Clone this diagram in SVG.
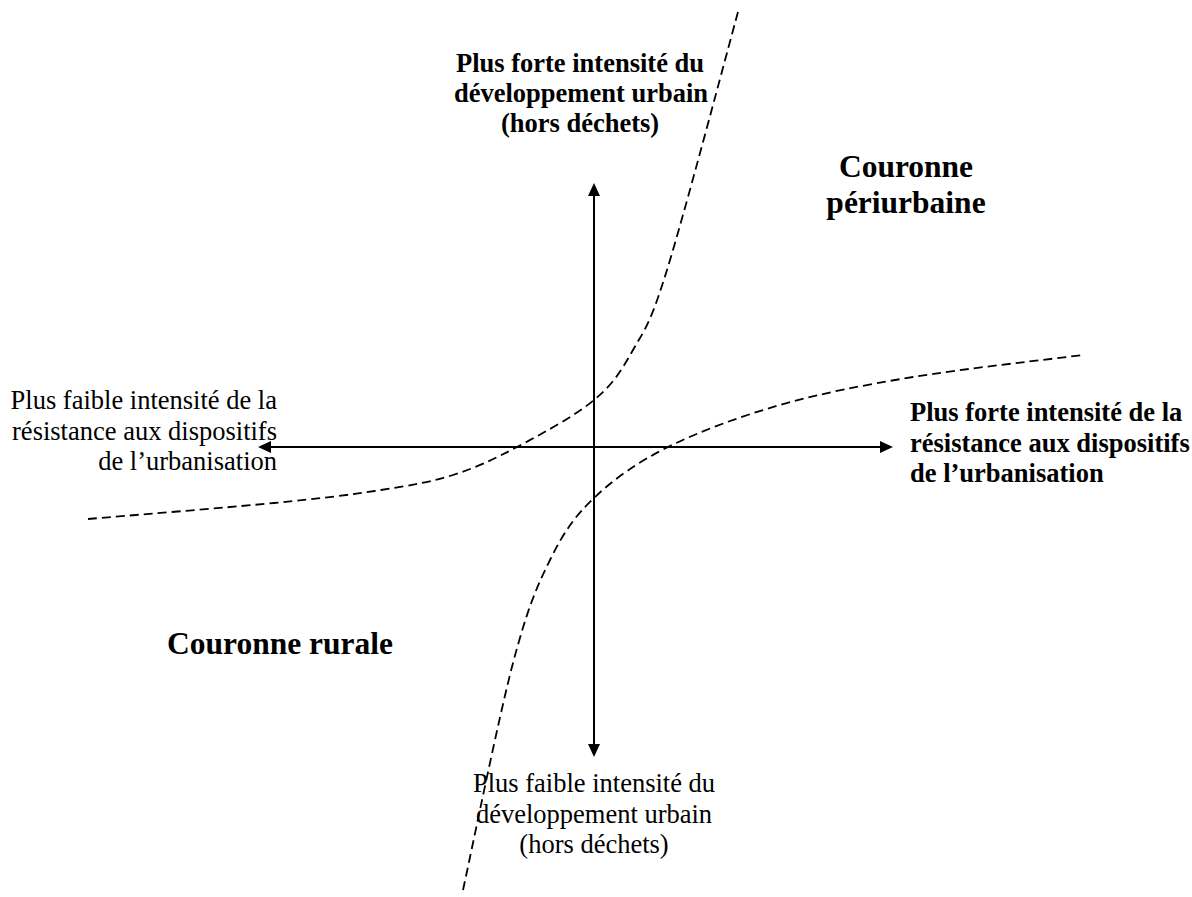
<svg xmlns="http://www.w3.org/2000/svg" width="1192" height="897" viewBox="0 0 1192 897">
  <style>
    .reg { font-family: "Liberation Serif", "Times New Roman", serif; font-size: 26.5px; fill: #000; }
    .bold { font-family: "Liberation Serif", "Times New Roman", serif; font-size: 26.5px; font-weight: bold; fill: #000; }
    .big { font-family: "Liberation Serif", "Times New Roman", serif; font-size: 31.5px; font-weight: bold; fill: #000; }
    .axis { stroke: #000; stroke-width: 2; fill: none; }
    .curve { stroke: #000; stroke-width: 1.8; fill: none; stroke-dasharray: 9 5; }
  </style>
  <defs>
    <marker id="arrow" markerUnits="userSpaceOnUse" markerWidth="13" markerHeight="12" viewBox="0 0 13 12" refX="0" refY="6" orient="auto-start-reverse">
      <path d="M0,0 L13,6 L0,12 z" fill="#000"/>
    </marker>
  </defs>
  <rect width="1192" height="897" fill="#fff"/>

  <g id="curves">
    <path id="curve-upper" class="curve" d="M88,519 C119,516.3 225.2,507.8 274,503 C322.8,498.2 351.2,494.7 381,490 C410.8,485.3 430.3,482.2 453,475 C475.7,467.8 493.5,459.5 517,447 C540.5,434.5 574.7,416.2 594,400 C613.3,383.8 620.8,371.7 633,350 C645.2,328.3 649.5,326.3 667,270 C684.5,213.7 726.2,55 738,12"/>
    <path id="curve-lower" class="curve" d="M463,890 C471.3,852.2 498.5,718 513,663 C527.5,608 536.5,587.5 550,560 C563.5,532.5 574.3,516.8 594,498 C613.7,479.2 637,462.5 668,447 C699,431.5 739.2,416.7 780,405 C820.8,393.3 862.5,385.3 913,377 C963.5,368.7 1054.7,358.7 1083,355"/>
  </g>

  <g id="connectors">
    <line id="axis-vertical" class="axis" x1="594" y1="196" x2="594" y2="744" marker-start="url(#arrow)" marker-end="url(#arrow)"/>
    <line id="axis-horizontal" class="axis" x1="271" y1="447" x2="880" y2="447" marker-start="url(#arrow)" marker-end="url(#arrow)"/>
  </g>

  <g id="label-top">
    <text class="bold" x="580" y="72" text-anchor="middle">Plus forte intensité du</text>
    <text class="bold" x="581" y="102" text-anchor="middle">développement urbain</text>
    <text class="bold" x="580" y="132" text-anchor="middle">(hors déchets)</text>
  </g>

  <g id="label-bottom">
    <text class="reg" x="594" y="792" text-anchor="middle">Plus faible intensité du</text>
    <text class="reg" x="594" y="822.5" text-anchor="middle">développement urbain</text>
    <text class="reg" x="594" y="853" text-anchor="middle">(hors déchets)</text>
  </g>

  <g id="label-left">
    <text class="reg" x="277" y="409" text-anchor="end">Plus faible intensité de la</text>
    <text class="reg" x="277" y="439.5" text-anchor="end">résistance aux dispositifs</text>
    <text class="reg" x="277" y="470" text-anchor="end">de l’urbanisation</text>
  </g>

  <g id="label-right">
    <text class="bold" x="910" y="421">Plus forte intensité de la</text>
    <text class="bold" x="910" y="451.5">résistance aux dispositifs</text>
    <text class="bold" x="910" y="482">de l’urbanisation</text>
  </g>

  <g id="zone-periurbaine">
    <text class="big" x="906" y="177" text-anchor="middle">Couronne</text>
    <text class="big" x="906" y="213" text-anchor="middle">périurbaine</text>
  </g>

  <g id="zone-rurale">
    <text class="big" x="167" y="654">Couronne rurale</text>
  </g>
</svg>
